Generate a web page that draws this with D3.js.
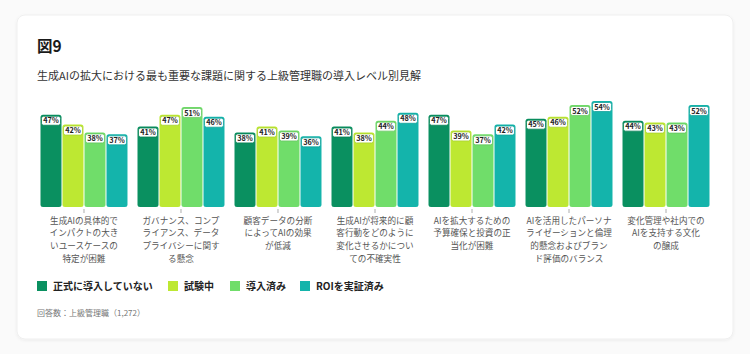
<!DOCTYPE html>
<html>
<head>
<meta charset="utf-8">
<script src="https://cdn.jsdelivr.net/npm/d3@7"></script>
<style>
  body { margin: 0; background: #fafafa; font-family: "Noto Sans CJK JP", "Noto Sans", sans-serif; }
  svg { display: block; }
</style>
</head>
<body>
<div id="chart"></div>
<script>
// Fig 9 - senior managers' views on the top challenge in scaling gen AI, by adoption level

const categories = [
    ['生成AIの具体的で', 'インパクトの大き', 'いユースケースの', '特定が困難'],
    ['ガバナンス、コンプ', 'ライアンス、データ', 'プライバシーに関す', 'る懸念'],
    ['顧客データの分断', 'によってAIの効果', 'が低減'],
    ['生成AIが将来的に顧', '客行動をどのように', '変化させるかについ', 'ての不確実性'],
    ['AIを拡大するための', '予算確保と投資の正', '当化が困難'],
    ['AIを活用したパーソナ', 'ライゼーションと倫理', '的懸念およびブラン', 'ド評価のバランス'],
    ['変化管理や社内での', 'AIを支持する文化', 'の醸成']
];

const seriesNames = ['正式に導入していない', '試験中', '導入済み', 'ROIを実証済み'];
const seriesColors = ['#0a9060', '#bde832', '#70dd6a', '#14b4ab'];

const notAdopted = [47, 41, 38, 41, 47, 45, 44];
const piloting   = [42, 47, 41, 38, 39, 46, 43];
const adopted    = [38, 51, 39, 44, 37, 52, 43];
const provenRoi  = [37, 46, 36, 48, 42, 54, 52];

const seriesValues = [notAdopted, piloting, adopted, provenRoi];

const W = 750, H = 354;

const svg = d3.select('#chart')
    .append('svg')
    .attr('width', W)
    .attr('height', H);

// card with soft shadow
const defs = svg.append('defs');
const shadow = defs.append('filter').attr('id', 'shadow')
    .attr('x', '-5%').attr('y', '-5%').attr('width', '110%').attr('height', '115%');
shadow.append('feDropShadow')
    .attr('dx', 0).attr('dy', 1).attr('stdDeviation', 1.5)
    .attr('flood-color', '#000').attr('flood-opacity', 0.06);

svg.append('rect')
    .attr('x', 17).attr('y', 15)
    .attr('width', 716).attr('height', 324)
    .attr('rx', 8)
    .attr('fill', '#fff')
    .attr('stroke', '#efefef')
    .attr('filter', 'url(#shadow)');

// titles
svg.append('text')
    .attr('x', 37).attr('y', 52)
    .attr('font-size', '15.5px')
    .attr('font-weight', 700)
    .attr('fill', '#1a1a1a')
    .text('図9');

svg.append('text')
    .attr('x', 37).attr('y', 80)
    .attr('font-size', '11px')
    .attr('fill', '#333')
    .text('生成AIの拡大における最も重要な課題に関する上級管理職の導入レベル別見解');

// scales
const groupIdx = d3.range(categories.length);
const x0 = d3.scaleBand()
    .domain(groupIdx)
    .range([40, 710])
    .paddingInner(0.093)
    .paddingOuter(0);

const x1 = d3.scaleBand()
    .domain(d3.range(seriesNames.length))
    .range([0, x0.bandwidth()])
    .padding(0);

const y = d3.scaleLinear()
    .domain([0, 54])
    .range([207, 101]);

const plot = svg.append('g');

groupIdx.forEach(gi => {
    const g = plot.append('g').attr('transform', `translate(${x0(gi)},0)`);

    seriesValues.forEach((vals, si) => {
        const v = vals[gi];
        const bx = x1(si);
        const bw = x1.bandwidth();

        g.append('rect')
            .attr('x', bx + 0.5)
            .attr('y', y(v))
            .attr('width', bw - 1)
            .attr('height', y(0) - y(v))
            .attr('rx', 2.5)
            .attr('fill', seriesColors[si]);

        // value tag sitting at the top of the bar
        const lw = 19, lh = 9;
        g.append('rect')
            .attr('x', bx + (bw - lw) / 2)
            .attr('y', y(v) + 1.5)
            .attr('width', lw)
            .attr('height', lh)
            .attr('rx', 2)
            .attr('fill', '#fff')
            .attr('stroke', d3.color(seriesColors[si]).darker(0.3))
            .attr('stroke-width', 0.8);

        g.append('text')
            .attr('x', bx + bw / 2)
            .attr('y', y(v) + 1.5 + lh / 2)
            .attr('dy', '0.36em')
            .attr('text-anchor', 'middle')
            .attr('font-size', '7.3px')
            .attr('font-weight', 700)
            .attr('fill', '#222')
            .text(v + '%');
    });

    // tick
    const cx = x0.bandwidth() / 2;
    g.append('line')
        .attr('x1', cx).attr('x2', cx)
        .attr('y1', 209).attr('y2', 213)
        .attr('stroke', '#999')
        .attr('stroke-width', 0.8);

    // category label
    const t = g.append('text')
        .attr('text-anchor', 'middle')
        .attr('font-size', '8.6px')
        .attr('fill', '#555');
    categories[gi].forEach((line, li) => {
        t.append('tspan')
            .attr('x', cx)
            .attr('y', 223.5 + li * 12.8)
            .text(line);
    });
});

// legend
const legendX = [37, 168, 230, 300];
const legend = svg.append('g');
seriesNames.forEach((name, i) => {
    legend.append('rect')
        .attr('x', legendX[i]).attr('y', 281)
        .attr('width', 10).attr('height', 10)
        .attr('fill', seriesColors[i]);
    legend.append('text')
        .attr('x', legendX[i] + 16).attr('y', 286)
        .attr('dy', '0.36em')
        .attr('font-size', '10px')
        .attr('font-weight', 700)
        .attr('fill', '#222')
        .text(name);
});

// footnote
svg.append('text')
    .attr('x', 37).attr('y', 316)
    .attr('font-size', '8px')
    .attr('fill', '#777')
    .text('回答数：上級管理職（1,272）');
</script>
</body>
</html>
